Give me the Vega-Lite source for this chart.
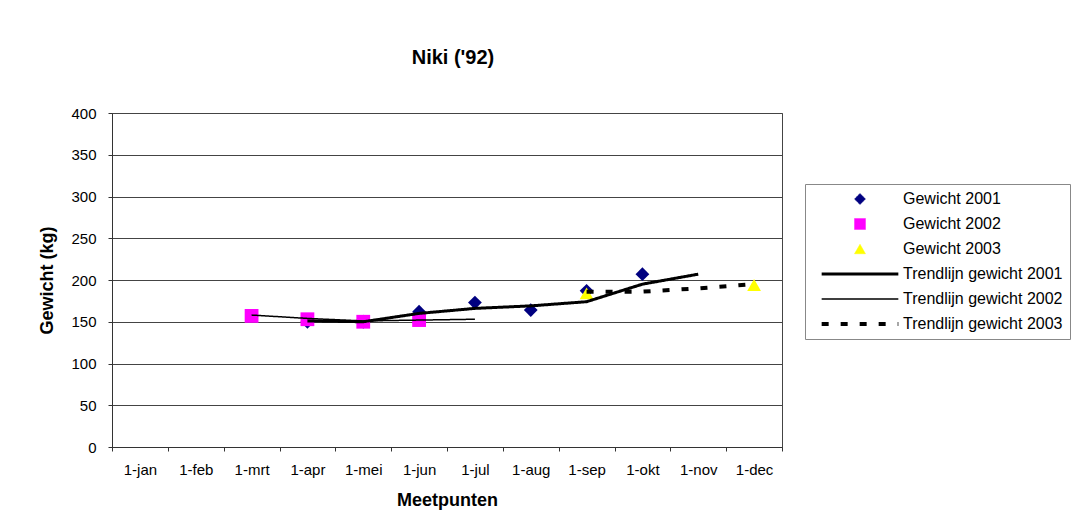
{
  "$schema": "https://vega.github.io/schema/vega-lite/v6.json",
  "width": 670,
  "height": 334,
  "autosize": {"type": "none"},
  "padding": {"left": 112, "top": 113, "right": 306, "bottom": 67},
  "background": "white",
  "title": {"text": "Niki ('92)", "font": "Liberation Sans", "fontSize": 20, "fontWeight": "bold", "color": "black", "offset": 38, "dx": 6},
  "config": {
    "view": {"stroke": "#444", "strokeWidth": 1},
    "font": "Liberation Sans",
    "axis": {"labelFont": "Liberation Sans", "labelFontSize": 15, "labelColor": "black", "titleFont": "Liberation Sans", "titleFontSize": 18, "titleFontWeight": "bold", "titleColor": "black", "domainColor": "#333", "tickColor": "#333", "tickSize": 4},
    "legend": {"orient": "none", "legendX": 693, "legendY": 71, "title": null, "strokeColor": "#888", "padding": 7, "symbolSize": 120, "labelFont": "Liberation Sans", "labelFontSize": 16, "labelColor": "black", "rowPadding": 9, "symbolOffset": 40, "labelOffset": 35, "fillColor": "white"}
  },
  "data": {"values": [
    {"month": "1-apr", "value": 150, "series": "Gewicht 2001", "kind": "point"},
    {"month": "1-mei", "value": 150, "series": "Gewicht 2001", "kind": "point"},
    {"month": "1-jun", "value": 162, "series": "Gewicht 2001", "kind": "point"},
    {"month": "1-jul", "value": 173, "series": "Gewicht 2001", "kind": "point"},
    {"month": "1-aug", "value": 164, "series": "Gewicht 2001", "kind": "point"},
    {"month": "1-sep", "value": 187, "series": "Gewicht 2001", "kind": "point"},
    {"month": "1-okt", "value": 207, "series": "Gewicht 2001", "kind": "point"},
    {"month": "1-mrt", "value": 157, "series": "Gewicht 2002", "kind": "point"},
    {"month": "1-apr", "value": 153, "series": "Gewicht 2002", "kind": "point"},
    {"month": "1-mei", "value": 150, "series": "Gewicht 2002", "kind": "point"},
    {"month": "1-jun", "value": 152, "series": "Gewicht 2002", "kind": "point"},
    {"month": "1-sep", "value": 184, "series": "Gewicht 2003", "kind": "point"},
    {"month": "1-dec", "value": 194, "series": "Gewicht 2003", "kind": "point"},
    {"month": "1-apr", "value": 151, "series": "Trendlijn gewicht 2001", "kind": "line"},
    {"month": "1-mei", "value": 150, "series": "Trendlijn gewicht 2001", "kind": "line"},
    {"month": "1-jun", "value": 160, "series": "Trendlijn gewicht 2001", "kind": "line"},
    {"month": "1-jul", "value": 166, "series": "Trendlijn gewicht 2001", "kind": "line"},
    {"month": "1-aug", "value": 169, "series": "Trendlijn gewicht 2001", "kind": "line"},
    {"month": "1-sep", "value": 174, "series": "Trendlijn gewicht 2001", "kind": "line"},
    {"month": "1-okt", "value": 195, "series": "Trendlijn gewicht 2001", "kind": "line"},
    {"month": "1-nov", "value": 207, "series": "Trendlijn gewicht 2001", "kind": "line"},
    {"month": "1-mrt", "value": 158, "series": "Trendlijn gewicht 2002", "kind": "line"},
    {"month": "1-apr", "value": 154, "series": "Trendlijn gewicht 2002", "kind": "line"},
    {"month": "1-mei", "value": 151, "series": "Trendlijn gewicht 2002", "kind": "line"},
    {"month": "1-jun", "value": 152, "series": "Trendlijn gewicht 2002", "kind": "line"},
    {"month": "1-jul", "value": 153, "series": "Trendlijn gewicht 2002", "kind": "line"},
    {"month": "1-sep", "value": 186, "series": "Trendlijn gewicht 2003", "kind": "line"},
    {"month": "1-okt", "value": 186, "series": "Trendlijn gewicht 2003", "kind": "line"},
    {"month": "1-nov", "value": 190, "series": "Trendlijn gewicht 2003", "kind": "line"},
    {"month": "1-dec", "value": 195, "series": "Trendlijn gewicht 2003", "kind": "line"}
  ]},
  "encoding": {
    "x": {"field": "month", "type": "ordinal",
      "scale": {"type": "band", "domain": ["1-jan","1-feb","1-mrt","1-apr","1-mei","1-jun","1-jul","1-aug","1-sep","1-okt","1-nov","1-dec"], "paddingInner": 0, "paddingOuter": 0},
      "axis": {"title": "Meetpunten", "labelAngle": 0, "tickBand": "extent", "grid": false, "labelPadding": 11, "titlePadding": 14}},
    "y": {"field": "value", "type": "quantitative",
      "scale": {"domain": [0, 400], "nice": false},
      "axis": {"title": "Gewicht (kg)", "values": [0,50,100,150,200,250,300,350,400], "grid": true, "gridColor": "#444", "gridWidth": 1, "labelPadding": 12, "titlePadding": 14}},
    "color": {"field": "series", "type": "nominal",
      "scale": {"domain": ["Gewicht 2001","Gewicht 2002","Gewicht 2003","Trendlijn gewicht 2001","Trendlijn gewicht 2002","Trendlijn gewicht 2003"],
                "range": ["#000080","#FF00FF","#FFFF00","#000000","#000000","#000000"]}}
  },
  "layer": [
    {
      "transform": [{"filter": "datum.kind === 'point'"}],
      "mark": {"type": "point", "filled": true, "opacity": 1, "size": 190},
      "encoding": {
        "shape": {"field": "series", "type": "nominal",
          "scale": {"domain": ["Gewicht 2001","Gewicht 2002","Gewicht 2003","Trendlijn gewicht 2001","Trendlijn gewicht 2002","Trendlijn gewicht 2003"],
                    "range": ["diamond","square","triangle-up","M-7,0H7","M-7,0H7","M-7,0H7"]}}
      }
    },
    {
      "transform": [{"filter": "datum.kind === 'line'"}],
      "mark": {"type": "line"},
      "encoding": {
        "strokeDash": {"field": "series", "type": "nominal",
          "scale": {"domain": ["Gewicht 2001","Gewicht 2002","Gewicht 2003","Trendlijn gewicht 2001","Trendlijn gewicht 2002","Trendlijn gewicht 2003"],
                    "range": [[1,0],[1,0],[1,0],[1,0],[1,0],[7,12]]}},
        "strokeWidth": {"field": "series", "type": "nominal",
          "scale": {"type": "ordinal", "domain": ["Gewicht 2001","Gewicht 2002","Gewicht 2003","Trendlijn gewicht 2001","Trendlijn gewicht 2002","Trendlijn gewicht 2003"],
                    "range": [0.5,0.5,0.5,3,1.5,4]}}
      }
    }
  ]
}
